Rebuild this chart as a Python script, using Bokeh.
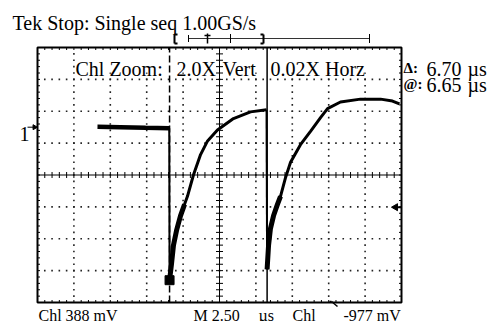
import numpy as np
from bokeh.plotting import figure
from bokeh.models import Range1d
from bokeh.embed import file_html
from bokeh.resources import INLINE
from bokeh.core.properties import value

# ---------------- data (time in µs from left graticule edge, level in divisions) ----------------
pre_t = [4.12, 5.70, 7.42, 9.05]
pre_v = [1.51, 1.50, 1.48, 1.47]

rise1_t = [9.07, 9.20, 9.34, 9.55, 9.82, 10.10, 10.30, 10.71, 11.20, 11.68, 12.36, 13.46, 14.63, 15.73]
rise1_v = [-3.30, -2.81, -2.20, -1.74, -1.28, -0.92, -0.67, 0.00, 0.64, 1.07, 1.41, 1.77, 1.98, 2.05]

rise2_t = [15.77, 15.87, 16.00, 16.21, 16.48, 16.69, 17.03, 17.38, 18.06, 18.75, 19.44, 19.92, 20.81, 22.18, 23.56, 24.38, 24.86]
rise2_v = [-2.96, -2.20, -1.68, -1.28, -0.92, -0.67, -0.09, 0.40, 0.95, 1.37, 1.80, 2.08, 2.29, 2.38, 2.38, 2.32, 2.23]

cursor_t = [9.07, 15.77]
marker_t = [9.07]
marker_v = [-3.30]
trigger_level = -1.01
ch_level = 1.50

header = "Tek Stop: Single seq  1.00GS/s"
zoom_texts = ["Chl Zoom:", "2.0X", "Vert", "0.02X Horz"]
readout_syms = ["\u0394:", "@:"]
readout_vals = ["6.70", "6.65"]
footer_texts = ["Chl  388 mV", "M 2.50", "\u00b5s", "Chl", "-977 mV"]

# ---------------- geometry (reference pixel layout) ----------------
W, H = 488, 321
X0P, X1P, Y0P, Y1P = 37.0, 401.0, 47.0, 302.0
NX, NY, XDIV = 10, 8, 2.5
XMAX = NX * XDIV
PXX = (X1P - X0P) / XMAX          # px per µs
PXY = (Y1P - Y0P) / NY            # px per division
YC = (Y0P + Y1P) / 2


def sx(px):
    return (px - X0P) / PXX


def sy(py):
    return (YC - py) / PXY


def dx(px):
    return px / PXX


def dy(px):
    return px / PXY


p = figure(width=W, height=H, output_backend="svg", toolbar_location=None,
           x_range=Range1d(sx(0), sx(W)), y_range=Range1d(sy(H), sy(0)),
           min_border=0, min_border_left=0, min_border_right=0, min_border_top=0, min_border_bottom=0)
p.axis.visible = False
p.grid.visible = False
p.outline_line_color = None
p.background_fill_color = "white"
p.border_fill_color = "white"

FONT = value("Liberation Serif")
INK = "black"

# dotted graticule
gx, gy = [], []
for k in range(1, NX):
    if k == NX // 2:
        continue
    for j in range(1, NY * 5):
        gx.append(k * XDIV)
        gy.append(-NY / 2 + j * 0.2)
for k in range(-NY // 2 + 1, NY // 2):
    if k == 0:
        continue
    for j in range(1, NX * 5):
        gx.append(j * XDIV / 5)
        gy.append(k)
p.scatter(gx, gy, marker="square", size=1.6, fill_color="#222", line_color=None)

# white box behind zoom text
p.quad(left=[sx(75)], right=[sx(366)], bottom=[sy(72)], top=[sy(52)], fill_color="white", line_color=None)

# center axes with ticks
p.segment([0], [0], [XMAX], [0], line_color=INK, line_width=1)
p.segment([XMAX / 2], [-NY / 2], [XMAX / 2], [NY / 2], line_color=INK, line_width=1)
tx = [j * XDIV / 5 for j in range(1, NX * 5)]
ty = [-NY / 2 + j * 0.2 for j in range(1, NY * 5)]
p.segment(tx, [-dy(3)] * len(tx), tx, [dy(3)] * len(tx), line_color=INK, line_width=1)
p.segment([XMAX / 2 - dx(3.5)] * len(ty), ty, [XMAX / 2 + dx(3.5)] * len(ty), ty, line_color=INK, line_width=1)

# border ticks
L = 2.5
p.segment(tx, [NY / 2] * len(tx), tx, [NY / 2 - dy(L)] * len(tx), line_color=INK, line_width=1)
p.segment(tx, [-NY / 2] * len(tx), tx, [-NY / 2 + dy(L)] * len(tx), line_color=INK, line_width=1)
p.segment([0] * len(ty), ty, [dx(L)] * len(ty), ty, line_color=INK, line_width=1)
p.segment([XMAX] * len(ty), ty, [XMAX - dx(L)] * len(ty), ty, line_color=INK, line_width=1)

# border
p.quad(left=[0], right=[XMAX], bottom=[-NY / 2], top=[NY / 2], fill_color=None, line_color=INK, line_width=2)

# cursors
p.segment([cursor_t[0]], [-NY / 2], [cursor_t[0]], [NY / 2], line_color=INK, line_width=1.5, line_dash="7 3")
p.segment([cursor_t[1]], [-NY / 2], [cursor_t[1]], [NY / 2], line_color=INK, line_width=1.5)

# waveform
p.line(pre_t, pre_v, line_color=INK, line_width=4.5)
p.segment([pre_t[-1]], [pre_v[-1]], [rise1_t[0]], [rise1_v[0]], line_color=INK, line_width=2)
p.line(rise1_t, rise1_v, line_color=INK, line_width=3)
p.line(rise1_t[:6], rise1_v[:6], line_color=INK, line_width=5)
p.segment([rise1_t[-1]], [rise1_v[-1]], [rise2_t[0]], [rise2_v[0]], line_color=INK, line_width=2)
p.line(rise2_t, rise2_v, line_color=INK, line_width=3)
p.line(rise2_t[:6], rise2_v[:6], line_color=INK, line_width=5)
p.scatter(marker_t, marker_v, marker="square", size=9, fill_color=INK, line_color=INK)

# channel marker "1 ->"
p.text([sx(19)], [ch_level - dy(7)], text=["1"], text_font=FONT, text_font_size="20px",
       text_color=INK, text_baseline="alphabetic")
p.segment([sx(27)], [ch_level], [sx(33)], [ch_level], line_color=INK, line_width=1)
p.scatter([sx(34)], [ch_level], marker="triangle", angle=-np.pi / 2, size=5, fill_color=INK, line_color=INK)

# trigger level marker
p.segment([XMAX - dx(5)], [trigger_level], [XMAX], [trigger_level], line_color=INK, line_width=2)
p.scatter([XMAX - dx(6)], [trigger_level], marker="triangle", angle=np.pi / 2, size=7, fill_color=INK, line_color=INK)

# record bar above graticule
yb = sy(38)
p.segment([sx(188)], [yb], [sx(369)], [yb], line_color="#333", line_width=1)
for xp, h in [(188, 3.5), (230, 4.5), (369, 4.5)]:
    p.segment([sx(xp)], [yb - dy(h)], [sx(xp)], [yb + dy(h)], line_color=INK, line_width=1)
# brackets
for xp, d in [(174, 3), (263, -3)]:
    p.segment([sx(xp)], [sy(43)], [sx(xp)], [sy(34)], line_color=INK, line_width=2)
    p.segment([sx(xp), sx(xp)], [sy(34), sy(43)], [sx(xp + d), sx(xp + d)], [sy(34), sy(43)], line_color=INK, line_width=2)
# trigger position marker
p.segment([sx(207)], [sy(33)], [sx(207)], [sy(43)], line_color=INK, line_width=1.5)
p.segment([sx(204)], [sy(35)], [sx(210)], [sy(35)], line_color=INK, line_width=1.5)

# slope symbol (just below the graticule)
ys = Y1P - 1
p.segment([sx(329), sx(331)], [sy(ys), sy(ys)], [sx(331), sx(337)], [sy(ys), sy(ys + 5)], line_color=INK, line_width=1.5)

# texts
def txt(xp, yp, s, size="20px", style="normal"):
    p.text([sx(xp)], [sy(yp)], text=[s], text_font=FONT, text_font_size=size, text_color=INK,
           text_baseline="alphabetic", text_align="left", text_font_style=style)


txt(12, 22, header)
for xp, s in zip([75, 176, 222, 270], zoom_texts):
    txt(xp, 68, s)
for i, (sym, val) in enumerate(zip(readout_syms, readout_vals)):
    yp = 68 + 16 * i
    txt(403, yp - 1, sym, size="15px", style="bold")
    txt(426, yp, val)
    txt(467, yp, "\u00b5s")
for xp, s in zip([38, 193, 258, 292, 343], footer_texts):
    txt(xp, 315, s, size="16px")

open("out.html", "w").write(file_html(p, INLINE))
